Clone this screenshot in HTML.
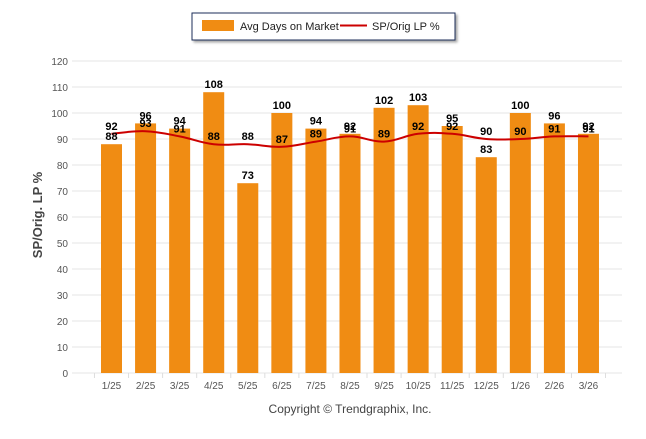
<!DOCTYPE html>
<html><head><meta charset="utf-8"><style>
body{margin:0;background:#fff;}
svg text{font-family:"Liberation Sans",sans-serif;}
</style></head><body>
<svg width="646" height="434" xmlns="http://www.w3.org/2000/svg">
<defs><filter id="sh" x="-10%" y="-10%" width="130%" height="150%"><feDropShadow dx="2" dy="2" stdDeviation="1.2" flood-color="#000" flood-opacity="0.35"/></filter></defs>
<g>
<rect x="192" y="13" width="263" height="27" fill="#fff" stroke="#1f2d5a" stroke-width="1" filter="url(#sh)"/>
<rect x="202" y="20" width="32" height="11" fill="#f08c13"/>
<text x="240" y="30" font-size="11" fill="#222">Avg Days on Market</text>
<line x1="340" y1="25.5" x2="367" y2="25.5" stroke="#cc0000" stroke-width="2"/>
<text x="372" y="30" font-size="11" fill="#222">SP/Orig LP %</text>
</g>
<text transform="translate(42,215) rotate(-90)" text-anchor="middle" font-size="13" font-weight="bold" fill="#444">SP/Orig. LP %</text>
<g id="grid"></g><g id="bars"></g><g id="line"></g><g id="labels"></g>
<text x="350" y="413" text-anchor="middle" font-size="12" fill="#444">Copyright © Trendgraphix, Inc.</text>
</svg>
<script>
const categories=["1/25","2/25","3/25","4/25","5/25","6/25","7/25","8/25","9/25","10/25","11/25","12/25","1/26","2/26","3/26"];
const daysOnMarket=[88,96,94,108,73,100,94,92,102,103,95,83,100,96,92];
const spOrigLP=[92,93,91,88,88,87,89,91,89,92,92,90,90,91,91];
const yTicks=[0,10,20,30,40,50,60,70,80,90,100,110,120];
const NS="http://www.w3.org/2000/svg";
const y0=373,y1=61,xl=72,xr=622,c0=111.5,step=34.07,bw=21;
const yS=v=>y0-(v/120)*(y0-y1);
const xS=i=>c0+i*step;
function mk(p,t,a){const e=document.createElementNS(NS,t);for(const k in a)e.setAttribute(k,a[k]);document.getElementById(p).appendChild(e);return e;}
yTicks.forEach(v=>{
 const l=mk('grid','line',{x1:xl,x2:xr,y1:yS(v),y2:yS(v),stroke:'#e6e6e6','stroke-width':1});
 
 
 const t=mk('grid','text',{x:68,y:yS(v)+4,'text-anchor':'end','font-size':10,fill:'#555'});
 t.textContent=v;
 
 
});
for(let i=0;i<=categories.length;i++){
 const x=c0-step/2+i*step;
 const tk=mk('grid','line',{x1:x,x2:x,y1:y0,y2:y0+5,stroke:'#ddd'});
 
 
}
categories.forEach((c,i)=>{
 const t=mk('grid','text',{x:xS(i),y:389,'text-anchor':'middle','font-size':10,fill:'#555'});
 t.textContent=c;
 
 
 const b=mk('bars','rect',{x:xS(i)-bw/2,y:yS(daysOnMarket[i]),width:bw,height:y0-yS(daysOnMarket[i]),fill:'#f08c13'});
 
 
});
const pts=spOrigLP.map((v,i)=>[xS(i),yS(v)]);
let d='M'+pts[0][0]+','+pts[0][1];
for(let i=0;i<pts.length-1;i++){
 const p0=pts[i-1]||pts[i],p1=pts[i],p2=pts[i+1],p3=pts[i+2]||p2,k=0.2;
 d+=' C'+(p1[0]+(p2[0]-p0[0])*k)+','+(p1[1]+(p2[1]-p0[1])*k)+' '+(p2[0]-(p3[0]-p1[0])*k)+','+(p2[1]-(p3[1]-p1[1])*k)+' '+p2[0]+','+p2[1];
}
const ln=mk('line','path',{d:d,fill:'none',stroke:'#cc0000','stroke-width':2});


categories.forEach((c,i)=>{
 const a=mk('labels','text',{x:xS(i),y:yS(daysOnMarket[i])-4,'text-anchor':'middle','font-size':11,'font-weight':'bold',fill:'#000'});
 a.textContent=daysOnMarket[i];
 
 
 const b=mk('labels','text',{x:xS(i),y:yS(spOrigLP[i])-4,'text-anchor':'middle','font-size':11,'font-weight':'bold',fill:'#000'});
 b.textContent=spOrigLP[i];
 
 
});
</script>
</body></html>
